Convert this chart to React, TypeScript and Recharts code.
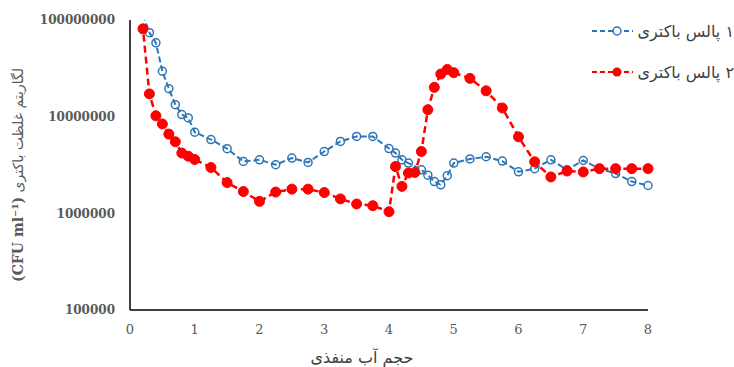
import { LineChart, Line, XAxis, YAxis, Label } from 'recharts';

// pore volume (x) and bacteria concentration, CFU/ml (log y)
const pulse1Volume = [
  0.2, 0.3, 0.4, 0.5, 0.6, 0.7, 0.8, 0.9, 1, 1.25, 1.5, 1.75, 2, 2.25, 2.5, 2.75, 3, 3.25, 3.5,
  3.75, 4, 4.1, 4.2, 4.3, 4.5, 4.6, 4.7, 4.8, 4.9, 5, 5.25, 5.5, 5.75, 6, 6.25, 6.5, 6.75, 7,
  7.25, 7.5, 7.75, 8,
];
const pulse1Count = [
  1.13e8, 7.4e7, 5.8e7, 2.95e7, 1.95e7, 1.33e7, 1.05e7, 9.7e6, 6.9e6, 5.8e6, 4.66e6, 3.44e6,
  3.58e6, 3.18e6, 3.73e6, 3.36e6, 4.36e6, 5.55e6, 6.25e6, 6.25e6, 4.68e6, 4.2e6, 3.58e6, 3.31e6,
  2.82e6, 2.48e6, 2.13e6, 1.97e6, 2.45e6, 3.31e6, 3.65e6, 3.85e6, 3.47e6, 2.69e6, 2.9e6, 3.58e6,
  2.82e6, 3.52e6, 2.9e6, 2.58e6, 2.13e6, 1.94e6,
];

const pulse2Volume = [
  0.15, 0.2, 0.3, 0.4, 0.5, 0.6, 0.7, 0.8, 0.9, 1, 1.25, 1.5, 1.75, 2, 2.25, 2.5, 2.75, 3, 3.25,
  3.5, 3.75, 4, 4.1, 4.2, 4.3, 4.4, 4.5, 4.6, 4.7, 4.8, 4.9, 5, 5.25, 5.5, 5.75, 6, 6.25, 6.5,
  6.75, 7, 7.25, 7.5, 7.75, 8,
];
const pulse2Count = [
  2e8, 8.1e7, 1.72e7, 1.02e7, 8.4e6, 6.6e6, 5.5e6, 4.2e6, 3.9e6, 3.6e6, 2.98e6, 2.08e6, 1.68e6,
  1.33e6, 1.66e6, 1.78e6, 1.78e6, 1.64e6, 1.41e6, 1.25e6, 1.2e6, 1.04e6, 3.05e6, 1.9e6, 2.61e6,
  2.65e6, 4.36e6, 1.18e7, 2.01e7, 2.76e7, 3.08e7, 2.85e7, 2.49e7, 1.85e7, 1.23e7, 6.18e6, 3.41e6,
  2.38e6, 2.74e6, 2.68e6, 2.9e6, 2.9e6, 2.9e6, 2.9e6,
];

const xTicks = [0, 1, 2, 3, 4, 5, 6, 7, 8];
const yTicks = [100000, 1000000, 10000000, 100000000];
const legendLabels = ['۱ پالس باکتری', '۲ پالس باکتری'];

const BLUE = '#2E75B6';
const RED = '#FF0000';

const pulse1 = pulse1Volume.map((x, i) => ({ x, y: pulse1Count[i] }));
const pulse2 = pulse2Volume.map((x, i) => ({ x, y: pulse2Count[i] }));

const YTitle = ({ viewBox }: any) => {
  const cx = 18;
  const cy = viewBox.y + 155;
  return (
    <text
      x={cx}
      y={cy}
      transform={`rotate(-90 ${cx} ${cy})`}
      textAnchor="middle"
      dominantBaseline="central"
      fill="#595959"
      fontSize={14}
      fontFamily="DejaVu Sans"
      direction="rtl"
    >
      <tspan>لگاریتم غلظت باکتری </tspan>
      <tspan fontFamily="DejaVu Serif" fontWeight="bold">(CFU ml⁻¹)</tspan>
    </text>
  );
};

const XTitle = () => (
  <text
    x={362}
    y={357}
    textAnchor="middle"
    dominantBaseline="central"
    fill="#404040"
    fontSize={16}
    fontFamily="DejaVu Sans"
    direction="rtl"
  >
    حجم آب منفذی
  </text>
);

function LegendRow({ color, filled, label }: { color: string; filled: boolean; label: string }) {
  return (
    <div style={{ display: 'flex', alignItems: 'center', height: 18, whiteSpace: 'nowrap' }}>
      <svg width={52} height={14}>
        <line x1={1} y1={7} x2={51} y2={7} stroke={color} strokeWidth={2} strokeDasharray="5 3" />
        {filled ? (
          <circle cx={26} cy={7} r={4.5} fill={color} />
        ) : (
          <circle cx={26} cy={7} r={4} fill="#fff" stroke={color} strokeWidth={1.5} />
        )}
      </svg>
      <span
        dir="rtl"
        style={{ marginLeft: 5, fontSize: 16, color: '#404040', fontFamily: 'DejaVu Sans' }}
      >
        {label}
      </span>
    </div>
  );
}

export default function App() {
  return (
    <div style={{ position: 'absolute', left: 0, top: 0, width: 734, height: 367, background: '#fff' }}>
      <LineChart width={734} height={367} margin={{ top: 20, right: 86, bottom: 12, left: 0 }}>
        <XAxis
          type="number"
          dataKey="x"
          domain={[0, 8]}
          ticks={xTicks}
          height={45}
          stroke="#000"
          strokeWidth={1.5}
          tickLine={false}
          tickSize={0}
          tickMargin={15}
          tick={{ fill: '#595959', fontSize: 13, fontFamily: 'DejaVu Serif' }}
        >
          <Label content={<XTitle />} />
        </XAxis>
        <YAxis
          type="number"
          dataKey="y"
          scale="log"
          domain={[100000, 100000000]}
          ticks={yTicks}
          allowDataOverflow
          width={130}
          stroke="#000"
          strokeWidth={1.5}
          tickLine={false}
          tickSize={0}
          tickMargin={15}
          tick={{ fill: '#595959', fontSize: 12, fontFamily: 'DejaVu Serif', fontWeight: 'bold' }}
        >
          <Label content={<YTitle />} />
        </YAxis>
        <Line
          data={pulse1}
          dataKey="y"
          stroke={BLUE}
          strokeWidth={2}
          strokeDasharray="6 3"
          dot={{ r: 4, fill: 'none', stroke: BLUE, strokeWidth: 1.5, strokeDasharray: '' }}
          isAnimationActive={false}
        />
        <Line
          data={pulse2}
          dataKey="y"
          stroke={RED}
          strokeWidth={2.5}
          strokeDasharray="7 4"
          dot={{ r: 5, fill: RED, stroke: RED, strokeWidth: 1, strokeDasharray: '' }}
          isAnimationActive={false}
        />
      </LineChart>
      <div
        style={{
          position: 'absolute',
          left: 591,
          top: 22,
          width: 143,
          display: 'flex',
          flexDirection: 'column',
          gap: 23,
        }}
      >
        <LegendRow color={BLUE} filled={false} label={legendLabels[0]} />
        <LegendRow color={RED} filled label={legendLabels[1]} />
      </div>
    </div>
  );
}
